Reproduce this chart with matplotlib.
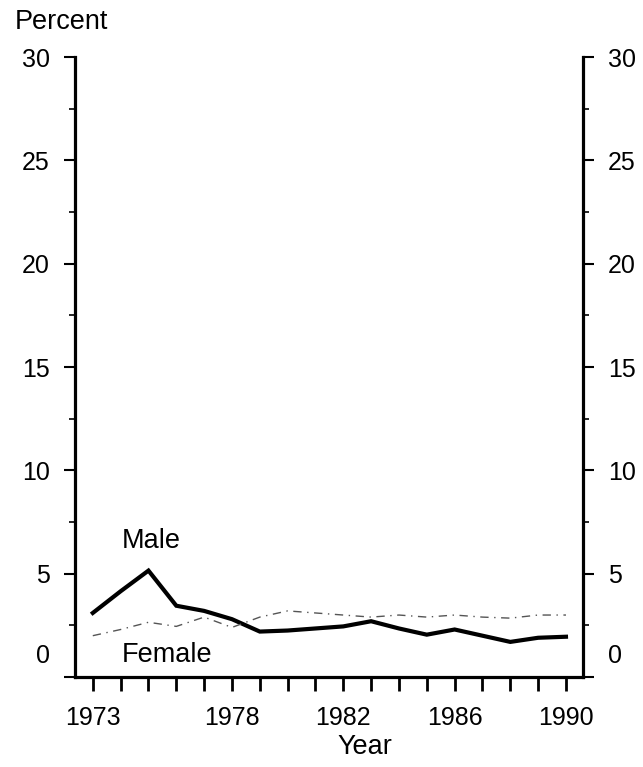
import matplotlib
matplotlib.use("Agg")
import matplotlib.pyplot as plt
import matplotlib.transforms as mtransforms

plt.rcParams['font.family'] = ['Liberation Sans', 'DejaVu Sans']

# Values
years = list(range(1973, 1991))
male = [3.1, 4.15, 5.15, 3.45, 3.2, 2.8, 2.2, 2.25, 2.35, 2.45, 2.7, 2.35,
        2.05, 2.3, 2.0, 1.7, 1.9, 1.95]
female = [2.0, 2.3, 2.65, 2.45, 2.9, 2.4, 2.9, 3.2, 3.1, 3.0, 2.9, 3.0,
          2.9, 3.0, 2.9, 2.85, 3.0, 3.0]
year_labels = [1973, 1978, 1982, 1986, 1990]
y_ticks = [0, 5, 10, 15, 20, 25, 30]

fig = plt.figure(figsize=(6.43, 7.67), dpi=100)
ax = fig.add_axes([0.1166, 0.1173, 0.790, 0.8083])

ax.plot(years, male, color='black', linewidth=3.0, solid_joinstyle='miter')
ax.plot(years, female, color='#555555', linewidth=1.0, linestyle=(0, (6, 4, 1, 4)))

ax.text(1974.05, 6.6, "Male", fontsize=19.5, ha='left', va='center')
ax.text(1974.05, 1.05, "Female", fontsize=19.5, ha='left', va='center')

ax.set_xlim(1972.36, 1990.61)
ax.set_ylim(0, 30)

ax.spines['top'].set_visible(False)
for side in ['left', 'right', 'bottom']:
    ax.spines[side].set_linewidth(2.3)

ax.set_xticks(years)
ax.set_xticklabels([str(y) if y in year_labels else '' for y in years])
ax.tick_params(axis='x', direction='out', length=10, width=2, labelsize=18, pad=11)

ax.set_yticks(y_ticks)
ax.set_yticks([2.5, 7.5, 12.5, 17.5, 22.5, 27.5], minor=True)
ax.tick_params(axis='y', which='major', direction='out', length=8, width=1.5,
               labelsize=18, pad=10, left=True, right=True,
               labelleft=True, labelright=True)
ax.tick_params(axis='y', which='minor', direction='out', length=4, width=1.2,
               left=True, right=True)

# the zero labels sit a bit above the baseline in the reference
fig.canvas.draw()
for lbl in ax.get_yticklabels():
    if lbl.get_text() == '0':
        off = mtransforms.ScaledTranslation(0, 24 / 100, fig.dpi_scale_trans)
        lbl.set_transform(lbl.get_transform() + off)

fig.text(15 / 643, 1 - 22 / 767, "Percent", fontsize=19.5, ha='left', va='center')
fig.text(365 / 643, 1 - 747 / 767, "Year", fontsize=19.5, ha='center', va='center')

fig.savefig("out.png", dpi=100)
